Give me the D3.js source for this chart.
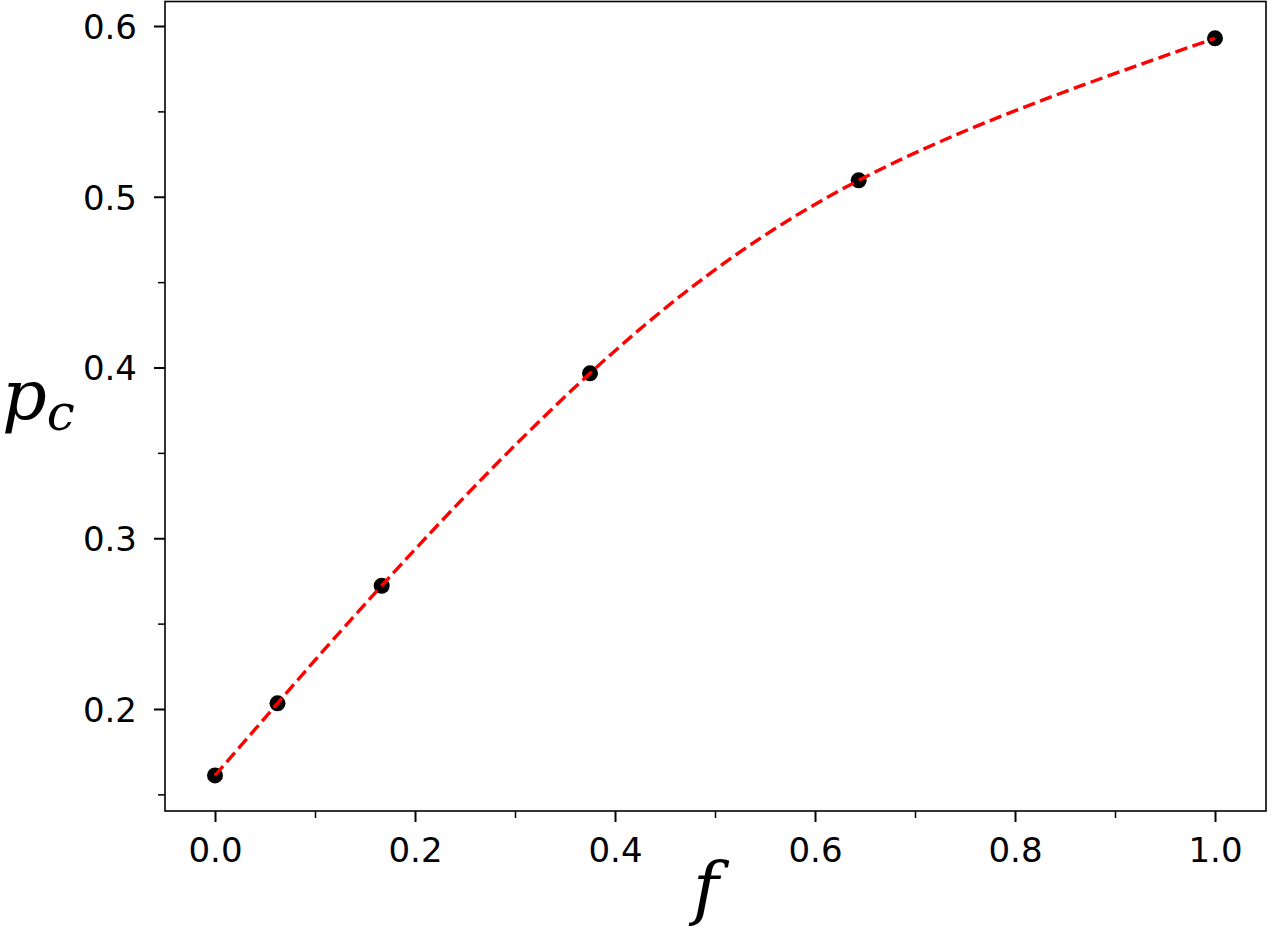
<!DOCTYPE html>
<html>
<head>
<meta charset="utf-8">
<script src="https://cdn.jsdelivr.net/npm/d3@7"></script>
<style>
  body { margin: 0; background: #fff; }
  svg { display: block; }
  .tick text { font-family: "DejaVu Sans", sans-serif; font-size: 34px; fill: #000; }
</style>
</head>
<body>
<div id="chart"></div>
<script>
// measured points
const fValues = [0, 0.0625, 0.1667, 0.375, 0.6437, 1.0];
const pcValues = [0.1611, 0.2033, 0.2722, 0.3966, 0.5096, 0.5928];

const xMajor = [0, 0.2, 0.4, 0.6, 0.8, 1.0];
const xMinor = [0.1, 0.3, 0.5, 0.7, 0.9];
const yMajor = [0.2, 0.3, 0.4, 0.5, 0.6];
const yMinor = [0.15, 0.25, 0.35, 0.45, 0.55];

const width = 1275, height = 934;
const box = { left: 165, right: 1266, top: 1.5, bottom: 811 };

const svg = d3.select('#chart').append('svg')
    .attr('width', width)
    .attr('height', height);

const x = d3.scaleLinear().domain([0, 1]).range([215, 1215]);
const y = d3.scaleLinear().domain([0.2, 0.6]).range([709, 26]);

// frame
svg.append('rect')
    .attr('x', box.left)
    .attr('y', box.top)
    .attr('width', box.right - box.left)
    .attr('height', box.bottom - box.top)
    .attr('fill', 'none')
    .attr('stroke', '#000')
    .attr('stroke-width', 1.6);

// x axis
const xAxis = svg.append('g')
    .attr('transform', `translate(0,${box.bottom})`)
    .call(d3.axisBottom(x).tickValues(xMajor).tickFormat(d3.format('.1f'))
        .tickSize(11).tickPadding(16));
xAxis.select('.domain').remove();
xAxis.selectAll('.tick line').attr('stroke-width', 2);
xAxis.selectAll('.tick text').attr('dy', '0.71em');

const xMinorAxis = svg.append('g')
    .attr('transform', `translate(0,${box.bottom})`)
    .call(d3.axisBottom(x).tickValues(xMinor).tickFormat('').tickSize(7));
xMinorAxis.select('.domain').remove();
xMinorAxis.selectAll('.tick line').attr('stroke-width', 1.5);

// y axis
const yAxis = svg.append('g')
    .attr('transform', `translate(${box.left},0)`)
    .call(d3.axisLeft(y).tickValues(yMajor).tickFormat(d3.format('.1f'))
        .tickSize(11).tickPadding(17));
yAxis.select('.domain').remove();
yAxis.selectAll('.tick line').attr('stroke-width', 2);
yAxis.selectAll('.tick text').attr('dy', '0.36em');

const yMinorAxis = svg.append('g')
    .attr('transform', `translate(${box.left},0)`)
    .call(d3.axisLeft(y).tickValues(yMinor).tickFormat('').tickSize(7));
yMinorAxis.select('.domain').remove();
yMinorAxis.selectAll('.tick line').attr('stroke-width', 1.5);

// fit curve
const pts = fValues.map((f, i) => [f, pcValues[i]]);
const line = d3.line()
    .x(d => x(d[0]))
    .y(d => y(d[1]))
    .curve(d3.curveNatural);

svg.append('g')
    .selectAll('circle')
    .data(pts)
    .join('circle')
    .attr('cx', d => x(d[0]))
    .attr('cy', d => y(d[1]))
    .attr('r', 8)
    .attr('fill', '#000');

svg.append('path')
    .datum(pts)
    .attr('d', line)
    .attr('fill', 'none')
    .attr('stroke', '#ff0000')
    .attr('stroke-width', 3.4)
    .attr('stroke-dasharray', '12.5,5.5');

// axis labels
const mathFont = "'DejaVu Serif', serif";

svg.append('text')
    .attr('x', 706)
    .attr('y', 912)
    .attr('text-anchor', 'middle')
    .attr('font-family', mathFont)
    .attr('font-style', 'italic')
    .attr('font-size', 70)
    .text('f');

const yl = svg.append('text')
    .attr('x', 2)
    .attr('y', 419)
    .attr('font-family', mathFont)
    .attr('font-style', 'italic')
    .attr('font-size', 70);
yl.append('tspan').text('p');
yl.append('tspan').attr('dy', 11).attr('font-size', 50).text('c');
</script>
</body>
</html>
